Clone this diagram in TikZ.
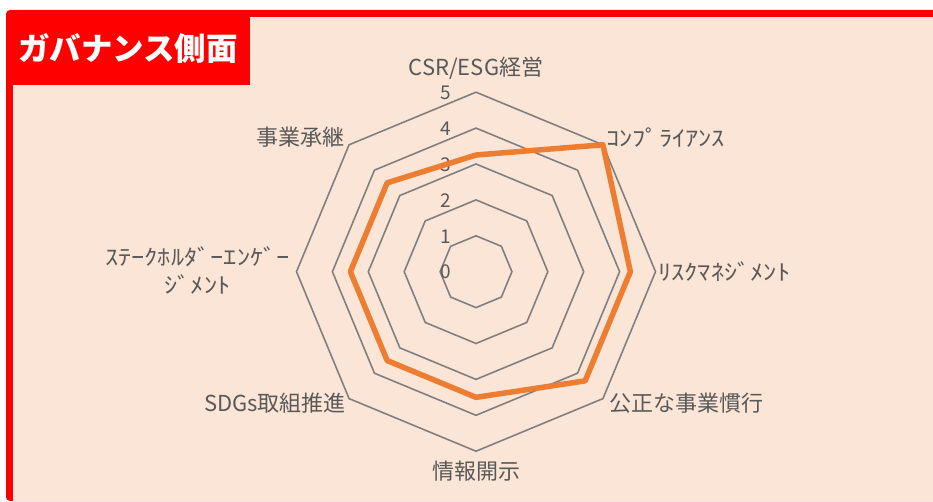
\documentclass[tikz,border=0pt]{standalone}
\usepackage{fontspec}
\setmainfont{Noto Sans CJK JP}
\newfontfamily\hankaku{Noto Sans CJK JP}[FakeStretch=1.2]
\usetikzlibrary{positioning}

\definecolor{peach}{RGB}{251,229,214}
\definecolor{ringgray}{RGB}{128,128,128}
\definecolor{textgray}{RGB}{89,89,89}
\definecolor{seriesorange}{RGB}{237,125,49}

\begin{document}
\begin{tikzpicture}[
  x=1pt,y=1pt,
  axislabel/.style={text=textgray,inner sep=0pt,font=\fontsize{22}{28}\selectfont},
  kanalabel/.style={axislabel,align=center,font=\hankaku\fontsize{22}{28}\selectfont},
  ticklabel/.style={text=textgray,inner sep=0pt,anchor=east,font=\fontsize{19}{20}\selectfont},
  ring/.style={draw=ringgray,line width=1.6pt,line join=miter},
  series/.style={draw=seriesorange,line width=5.5pt,line join=round}
]
\useasboundingbox (0,0) rectangle (933,501);

% frame and title box
\fill[red,rounded corners=4pt] (6,0) rectangle (945,491);
\fill[peach] (13,0) rectangle (933,484);
\fill[red] (6,416) rectangle (250,484);
\node[text=white,font=\bfseries\fontsize{31.5}{32}\selectfont] (title) at (128,453) {ガバナンス側面};

\begin{scope}[shift={(476,229.3)}]
% rings
\foreach \r in {1,...,5}
  \draw[ring] (90:\r*35.9) \foreach \a in {45,0,...,-225} {-- (\a:\r*35.9)} -- cycle;

% scale
\foreach \v in {0,...,5}
  \node[ticklabel] (tick\v) at (-25,\v*35.9-0.5) {\v};

% axis labels
\node[axislabel] (csr) at (0,203.7) {CSR/ESG経営};
\node[kanalabel,anchor=west] (comp) at (130,133.7) {ｺﾝﾌﾟﾗｲｱﾝｽ};
\node[kanalabel,anchor=west] (risk) at (182,0) {ﾘｽｸﾏﾈｼﾞﾒﾝﾄ};
\node[axislabel,anchor=west] (fair) at (133,-131.3) {公正な事業慣行};
\node[axislabel] (info) at (0,-199.3) {情報開示};
\node[axislabel,anchor=east] (sdgs) at (-130,-131.3) {SDGs取組推進};
\node[kanalabel,anchor=east] (stake) at (-186,0.7) {ｽﾃｰｸﾎﾙﾀﾞｰｴﾝｹﾞｰ\\ｼﾞﾒﾝﾄ};
\node[axislabel,anchor=east] (succ) at (-131,134.7) {事業承継};

% scores
\coordinate (p1) at (90:3.25*35.9);
\coordinate (p2) at (45:5*35.9);
\coordinate (p3) at (0:4.3*35.9);
\coordinate (p4) at (-45:4.3*35.9);
\coordinate (p5) at (-90:3.5*35.9);
\coordinate (p6) at (-135:3.5*35.9);
\coordinate (p7) at (180:3.5*35.9);
\coordinate (p8) at (135:3.5*35.9);

\draw[series] (p1) -- (p2) -- (p3) -- (p4) -- (p5) -- (p6) -- (p7) -- (p8) -- cycle;
\end{scope}

\end{tikzpicture}
\end{document}
